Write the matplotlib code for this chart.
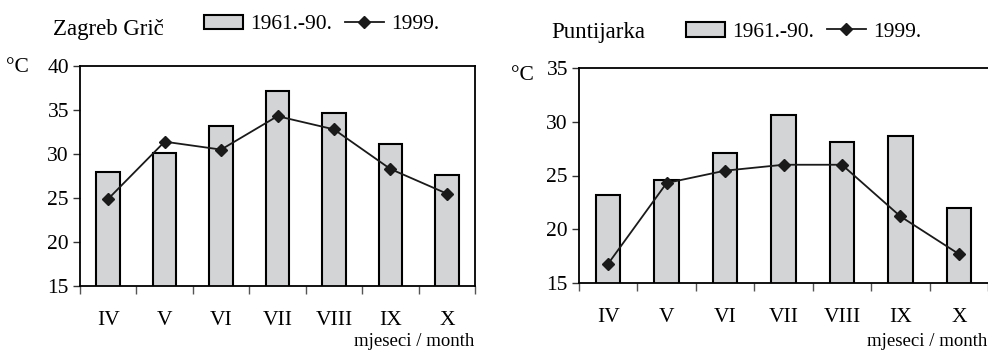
import matplotlib
matplotlib.use("Agg")
import matplotlib.pyplot as plt
import numpy as np

plt.rcParams['font.family'] = ['Liberation Serif', 'DejaVu Serif']

months = ['IV', 'V', 'VI', 'VII', 'VIII', 'IX', 'X']

# Zagreb Grič: 1961-90 bars and 1999 line (°C)
gric_norm = [28.0, 30.1, 33.2, 37.2, 34.7, 31.1, 27.6]
gric_1999 = [24.9, 31.4, 30.5, 34.3, 32.8, 28.3, 25.5]

# Puntijarka
punt_norm = [23.2, 24.6, 27.1, 30.6, 28.1, 28.7, 22.0]
punt_1999 = [16.8, 24.3, 25.45, 26.0, 26.0, 21.2, 17.7]

fs = 15.5
bar_col = '#d3d4d6'
ink = '#1a1a1a'

fig = plt.figure(figsize=(9.88, 3.51), dpi=100)
ax1 = fig.add_axes([80/988, 1-286/351, 395/988, 220/351])
ax2 = fig.add_axes([579/988, 1-283/351, 409/988, 215/351])


def draw(ax, norm, y99, ylim, title, tx, ty, lx, ly, cx, cy, my):
    x = np.arange(len(months))
    bars = ax.bar(x, norm, width=0.42, bottom=0, color=bar_col,
                  edgecolor='black', linewidth=1.5, zorder=2)
    line, = ax.plot(x, y99, color=ink, lw=1.3, marker='D', ms=6.5,
                    mfc=ink, mec=ink, zorder=3)
    ax.set_xlim(-0.5, len(months) - 0.5)
    ax.set_ylim(*ylim)
    ax.set_yticks(np.arange(ylim[0], ylim[1] + 1, 5))
    ax.tick_params(axis='y', direction='out', length=5, width=1,
                   labelsize=fs, pad=3, color='#333333')
    # category ticks sit on the boundaries between months
    ax.set_xticks(np.arange(len(months) + 1) - 0.5)
    ax.set_xticklabels([])
    ax.set_xticks(x, minor=True)
    ax.set_xticklabels(months, minor=True)
    ax.tick_params(axis='x', which='major', direction='out', length=6,
                   width=1, color='#555555')
    ax.tick_params(axis='x', which='minor', length=0, labelsize=fs, pad=18)
    for s in ax.spines.values():
        s.set_linewidth(1.3)
        s.set_color('black')
    bb = ax.get_position()
    fig.text(bb.x1 - 1/988, 1-my/351, 'mjeseci / month', ha='right',
             va='center', fontsize=13.5)
    fig.text(cx/988, 1-cy/351, '°C', fontsize=fs, ha='left', va='center')
    fig.text(tx/988, 1-ty/351, title, fontsize=16.5, ha='left',
             va='center')
    fig.legend([bars, line], ['1961.-90.', '1999.'], ncol=2,
               frameon=False, fontsize=15.5, handlelength=1.8,
               handleheight=0.68, handletextpad=0.35, columnspacing=0.6,
               borderpad=0, borderaxespad=0,
               loc='center left', bbox_to_anchor=(lx/988, 1-ly/351))
    return bars, line


draw(ax1, gric_norm, gric_1999, (15, 40), 'Zagreb Grič',
     53, 29, 204, 24.5, 6, 68, 342)
draw(ax2, punt_norm, punt_1999, (15, 35), 'Puntijarka',
     551, 32.5, 686, 32, 511, 76, 342)
ax2.spines['right'].set_visible(False)

fig.savefig('out.png', dpi=100)
